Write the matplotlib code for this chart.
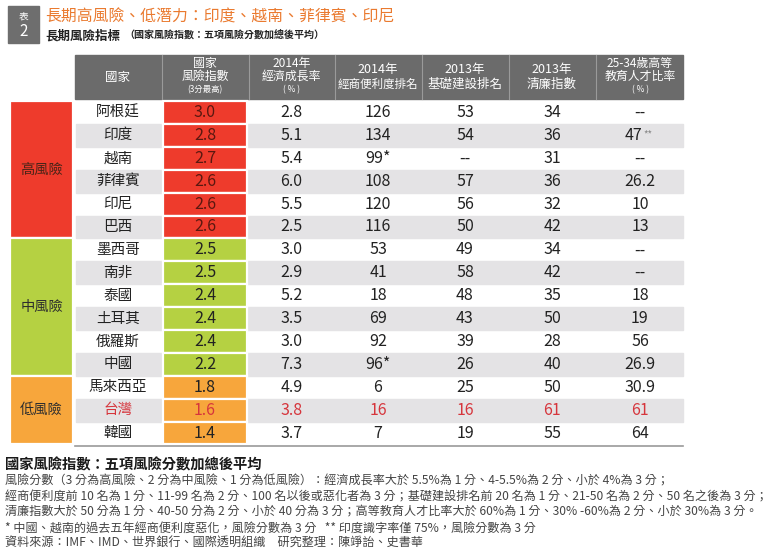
import matplotlib.pyplot as plt
from matplotlib.patches import Rectangle

plt.rcParams['font.family'] = ['Noto Sans CJK TC', 'DejaVu Sans']

# Data
groups = ['高風險', '中風險', '低風險']
group_sizes = [6, 6, 3]
group_colors = ['#ee3b2c', '#b5d142', '#f7a63c']
countries = ['阿根廷', '印度', '越南', '菲律賓', '印尼', '巴西',
             '墨西哥', '南非', '泰國', '土耳其', '俄羅斯', '中國',
             '馬來西亞', '台灣', '韓國']
risk = ['3.0', '2.8', '2.7', '2.6', '2.6', '2.6',
        '2.5', '2.5', '2.4', '2.4', '2.4', '2.2',
        '1.8', '1.6', '1.4']
growth = ['2.8', '5.1', '5.4', '6.0', '5.5', '2.5',
          '3.0', '2.9', '5.2', '3.5', '3.0', '7.3',
          '4.9', '3.8', '3.7']
business = ['126', '134', '99*', '108', '120', '116',
            '53', '41', '18', '69', '92', '96*',
            '6', '16', '7']
infra = ['53', '54', '--', '57', '56', '50',
         '49', '58', '48', '43', '39', '26',
         '25', '16', '19']
clean = ['34', '36', '31', '36', '32', '42',
         '34', '42', '35', '50', '28', '40',
         '50', '61', '55']
edu = ['--', '47**', '--', '26.2', '10', '13',
       '--', '--', '18', '19', '56', '26.9',
       '30.9', '61', '64']
highlight = '台灣'

headers = [['國家'],
           ['國家', '風險指數', '(3分最高)'],
           ['2014年', '經濟成長率', '( % )'],
           ['2014年', '經商便利度排名'],
           ['2013年', '基礎建設排名'],
           ['2013年', '清廉指數'],
           ['25-34歲高等', '教育人才比率', '( % )']]

footnotes = [
    '風險分數（3 分為高風險、2 分為中風險、1 分為低風險）：經濟成長率大於 5.5%為 1 分、4-5.5%為 2 分、小於 4%為 3 分；',
    '經商便利度前 10 名為 1 分、11-99 名為 2 分、100 名以後或惡化者為 3 分；基礎建設排名前 20 名為 1 分、21-50 名為 2 分、50 名之後為 3 分；',
    '清廉指數大於 50 分為 1 分、40-50 分為 2 分、小於 40 分為 3 分；高等教育人才比率大於 60%為 1 分、30% -60%為 2 分、小於 30%為 3 分。',
    '* 中國、越南的過去五年經商便利度惡化，風險分數為 3 分   ** 印度識字率僅 75%，風險分數為 3 分',
    '資料來源：IMF、IMD、世界銀行、國際透明組織　研究整理：陳竫詒、史書華',
]

fig = plt.figure(figsize=(7.71, 5.59), dpi=100)
ax = fig.add_axes([0, 0, 1, 1])
ax.set_xlim(0, 771)
ax.set_ylim(559, 0)
ax.axis('off')

# Title block
ax.add_patch(Rectangle((8, 6), 31, 37, color='#6e6e6e'))
ax.text(23.5, 16, '表', color='white', fontsize=7, ha='center', va='center')
ax.text(23.5, 32, '2', color='white', fontsize=11, ha='center', va='center')
ax.text(45, 17, '長期高風險、低潛力：印度、越南、菲律賓、印尼', color='#ea7a2f',
        fontsize=11.4, fontweight='medium', ha='left', va='center')
ax.text(45, 36, '長期風險指標', color='#222222', fontsize=9, fontweight='bold',
        ha='left', va='center')
ax.text(124, 36, '（國家風險指數：五項風險分數加總後平均）', color='#222222', fontsize=7.2,
        fontweight='bold', ha='left', va='center')

# Columns
col_left = [76, 163, 250, 336, 423, 510, 597]
col_right = [160, 247, 333, 420, 507, 594, 683]
col_center = [(l + r) / 2 for l, r in zip(col_left, col_right)]
top = 101
rh = 22.9
head_top, head_bot = 55, 99

# Header
ax.add_patch(Rectangle((75, head_top), 683 - 75, head_bot - head_top, color='#6b6b6b'))
for x in col_left[1:]:
    ax.plot([x - 1.5, x - 1.5], [head_top, head_bot], color='#9a9a9a', lw=0.8)
for c, lines in zip(col_center, headers):
    n = len(lines)
    if n == 1:
        ax.text(c, 77, lines[0], color='white', fontsize=9, ha='center', va='center')
    elif n == 2:
        for k, s in enumerate(lines):
            fs = 8.3 if len(s) > 6 else 9
            ax.text(c, 70 + k * 14, s, color='white', fontsize=fs, ha='center', va='center')
    else:
        ax.text(c, 63, lines[0], color='white', fontsize=8.6, ha='center', va='center')
        ax.text(c, 76, lines[1], color='white', fontsize=8.6, ha='center', va='center')
        ax.text(c, 89.5, lines[2], color='white', fontsize=6, ha='center', va='center')

# Rows
cols = [countries, risk, growth, business, infra, clean, edu]
row_group = []
for g, n in enumerate(group_sizes):
    row_group += [g] * n

for i, name in enumerate(countries):
    y = top + i * rh
    g = row_group[i]
    if i % 2 == 1:
        ax.add_patch(Rectangle((76, y), 683 - 76, rh, color='#e4e3e5', zorder=0))
    ax.add_patch(Rectangle((163, y), 84, rh, facecolor=group_colors[g],
                           edgecolor='white', lw=1.6, zorder=1))
    hl = name == highlight
    for j, vals in enumerate(cols):
        s = vals[i]
        if hl:
            color = '#d6353c'
        elif j == 1 and g == 0:
            color = '#5a1810'
        else:
            color = '#222222'
        fs = 10.5 if j == 0 else 11.5
        if s.endswith('**'):
            ax.text(col_center[j] + 2, y + rh / 2, s[:-2], color=color, fontsize=fs,
                    ha='right', va='center', zorder=3)
            ax.text(col_center[j] + 3, y + rh / 2 - 1, '**', color='#888888', fontsize=7,
                    ha='left', va='center', zorder=3)
        else:
            ax.text(col_center[j], y + rh / 2, s, color=color, fontsize=fs,
                    ha='center', va='center', zorder=3)

# Group cells
start = 0
for g, n in enumerate(group_sizes):
    y = top + start * rh
    ax.add_patch(Rectangle((10, y), 63, n * rh, facecolor=group_colors[g],
                           edgecolor='white', lw=1.6, zorder=1))
    ax.text(41.5, y + n * rh / 2, groups[g], fontsize=10.3,
            color='#4a2418' if g == 0 else '#2e2e2e', ha='center', va='center', zorder=3)
    start += n

bottom = top + len(countries) * rh
ax.plot([75, 683], [bottom + 1, bottom + 1], color='#9a9a9a', lw=1.2)

# Footnotes
ax.text(5, 465, '國家風險指數：五項風險分數加總後平均', fontsize=10.3, fontweight='bold',
        color='#1a1a1a', ha='left', va='center')
for k, s in enumerate(footnotes):
    ax.text(5, 481 + k * 15.6, s, fontsize=8.7, color='#444444', ha='left', va='center')

plt.savefig('out.png', dpi=100)
